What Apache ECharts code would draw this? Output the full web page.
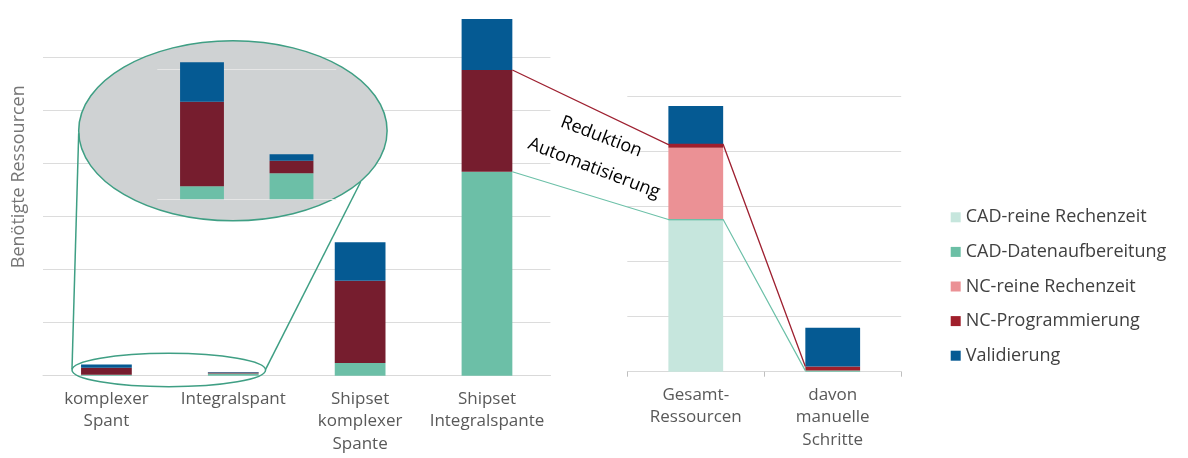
<!DOCTYPE html>
<html><head><meta charset="utf-8">
<script src="https://cdn.jsdelivr.net/npm/echarts@6/dist/echarts.min.js"></script>
<style>html,body{margin:0;padding:0;background:#fff}#c{width:1188px;height:458px}</style>
</head><body><div id="c"></div>
<script>
// ---- data ----
const leftCategories = ['komplexer\nSpant', 'Integralspant', 'Shipset\nkomplexer\nSpante', 'Shipset\nIntegralspante'];
const leftCAD = [0.2, 0.40, 2.39, 38.44];
const leftNC = [1.3, 0.195, 15.51, 19.16];
const leftValidierung = [0.61, 0.10, 7.24, 9.61];

const rightCategories = ['Gesamt-\nRessourcen', 'davon\nmanuelle\nSchritte'];
const cadReine = [2.74, 0];
const cadDaten = [0.02, 0.02];
const ncReine = [1.30, 0];
const ncProg = [0.06, 0.075];
const validierung = [0.70, 0.70];

const legendNames = ['CAD-reine Rechenzeit', 'CAD-Datenaufbereitung', 'NC-reine Rechenzeit', 'NC-Programmierung', 'Validierung'];
const yTitle = 'Benötigte Ressourcen';
const noteTop = 'Reduktion';
const noteBottom = 'Automatisierung';

// ---- chart ----
const FONT = '"Open Sans", "Noto Sans", sans-serif';
const chart = echarts.init(document.getElementById('c'));
const labelStyle = {interval: 0, color: '#595959', fontSize: 17, lineHeight: 22.5, margin: 12, fontFamily: FONT};

function bar(name, data, color, idx, stack, width, z) {
  return {type: 'bar', name, data, stack, xAxisIndex: idx, yAxisIndex: idx, barWidth: width,
    itemStyle: {color}, clip: false, z: z || 2, emphasis: {disabled: true}};
}

const option = {
  animation: false,
  textStyle: {fontFamily: FONT},
  grid: [
    {left: 43, top: 57.3, width: 507.4, height: 318.4, containLabel: false, outerBoundsMode: 'none'},
    {left: 627.3, top: 96, width: 273.9, height: 275.7, containLabel: false, outerBoundsMode: 'none'},
    {left: 157.25, top: 69.3, width: 179, height: 130, containLabel: false, outerBoundsMode: 'none'}
  ],
  xAxis: [
    {type: 'category', gridIndex: 0, data: leftCategories, axisLine: {lineStyle: {color: '#d9d9d9'}},
      axisTick: {show: false}, axisLabel: labelStyle},
    {type: 'category', gridIndex: 1, data: rightCategories, axisLine: {lineStyle: {color: '#d9d9d9'}},
      axisTick: {show: true, length: 5, lineStyle: {color: '#bfbfbf'}}, axisLabel: labelStyle},
    {type: 'category', gridIndex: 2, data: leftCategories.slice(0, 2), axisLine: {show: false},
      axisTick: {show: false}, axisLabel: {show: false}, z: 3}
  ],
  yAxis: [
    {type: 'value', gridIndex: 0, min: 0, max: 60, interval: 10, axisLabel: {show: false},
      axisLine: {show: false}, axisTick: {show: false}, splitLine: {lineStyle: {color: '#dcdcdc'}}},
    {type: 'value', gridIndex: 1, min: 0, max: 5, interval: 1, axisLabel: {show: false},
      axisLine: {show: false}, axisTick: {show: false}, splitLine: {lineStyle: {color: '#dcdcdc'}}},
    {type: 'value', gridIndex: 2, min: 0, max: 2, interval: 2, axisLabel: {show: false}, z: 3,
      axisLine: {show: false}, axisTick: {show: false}, splitLine: {lineStyle: {color: '#e6e6e6'}}}
  ],
  legend: {
    orient: 'vertical', left: 945.7, top: 202.3, data: legendNames, icon: 'rect',
    itemWidth: 10, itemHeight: 10, itemGap: 14.6, selectedMode: false,
    textStyle: {fontSize: 18, color: '#404040', lineHeight: 20, fontFamily: FONT}
  },
  series: [
    bar('L-CAD', leftCAD, '#6cbfa7', 0, 'L', '40%'),
    bar('L-NC', leftNC, '#761d2e', 0, 'L', '40%'),
    bar('L-Val', leftValidierung, '#055a93', 0, 'L', '40%'),
    bar(legendNames[0], cadReine, '#c6e6dd', 1, 'R', '40%'),
    bar(legendNames[1], cadDaten, '#6bbfa5', 1, 'R', '40%'),
    bar(legendNames[2], ncReine, '#eb9195', 1, 'R', '40%'),
    bar(legendNames[3], ncProg, '#a01f2b', 1, 'R', '40%'),
    bar(legendNames[4], validierung, '#055a93', 1, 'R', '40%'),
    bar('I-CAD', leftCAD.slice(0, 2), '#6cbfa7', 2, 'I', '49%', 4),
    bar('I-NC', leftNC.slice(0, 2), '#761d2e', 2, 'I', '49%', 4),
    bar('I-Val', leftValidierung.slice(0, 2), '#055a93', 2, 'I', '49%', 4)
  ]
};
chart.setOption(option);

// connector lines derived from the axes
function px(g, cat, val) { return chart.convertToPixel({gridIndex: g}, [cat, val]); }
const halfL = (px(0, 1, 0)[0] - px(0, 0, 0)[0]) * 0.4 / 2;
const halfR = (px(1, 1, 0)[0] - px(1, 0, 0)[0]) * 0.4 / 2;
const xL = px(0, 3, 0)[0] + halfL;
const lTeal = px(0, 3, leftCAD[3])[1];
const lRed = px(0, 3, leftCAD[3] + leftNC[3])[1];
const gL = px(1, 0, 0)[0] - halfR, gR = px(1, 0, 0)[0] + halfR;
const dL = px(1, 1, 0)[0] - halfR;
const cadTop = i => cadReine[i] + cadDaten[i];
const ncTop = i => cadTop(i) + ncReine[i] + ncProg[i];
const tealPts = [[xL, lTeal], [gL, px(1, 0, cadTop(0))[1]], [gR, px(1, 0, cadTop(0))[1]], [dL, px(1, 1, cadTop(1))[1]]];
const redPts = [[xL, lRed], [gL, px(1, 0, ncTop(0))[1]], [gR, px(1, 0, ncTop(0))[1]], [dL, px(1, 1, ncTop(1))[1]]];

const zoomStroke = '#3f9f84';
chart.setOption({
  graphic: [
    {type: 'ellipse', shape: {cx: 232.9, cy: 130.8, rx: 154.2, ry: 90}, style: {fill: '#cfd2d3', stroke: zoomStroke, lineWidth: 1.5}, z: 1, silent: true},
    {type: 'ellipse', shape: {cx: 168.8, cy: 370, rx: 96.8, ry: 16.7}, style: {fill: null, stroke: zoomStroke, lineWidth: 1.5}, z: 10, silent: true},
    {type: 'line', shape: {x1: 72, y1: 369.3, x2: 78.7, y2: 133.3}, style: {stroke: zoomStroke, lineWidth: 1.5}, z: 10, silent: true},
    {type: 'line', shape: {x1: 265.6, y1: 369.3, x2: 360.6, y2: 182}, style: {stroke: zoomStroke, lineWidth: 1.5}, z: 10, silent: true},
    {type: 'polyline', shape: {points: tealPts}, style: {stroke: '#6cc0a8', lineWidth: 1.2, fill: null}, z: 10, silent: true},
    {type: 'polyline', shape: {points: redPts}, style: {stroke: '#9e2030', lineWidth: 1.3, fill: null}, z: 10, silent: true},
    {type: 'text', x: 19, y: 176.7, rotation: Math.PI / 2, silent: true,
      style: {text: yTitle, fill: '#767676', font: '18px ' + FONT, align: 'center', verticalAlign: 'middle'}},
    {type: 'text', x: 601.3, y: 136.7, rotation: -0.366, silent: true, z: 11,
      style: {text: noteTop, fill: '#000', font: '18px ' + FONT, align: 'center', verticalAlign: 'middle'}},
    {type: 'text', x: 594, y: 168.3, rotation: -0.366, silent: true, z: 11,
      style: {text: noteBottom, fill: '#000', font: '18px ' + FONT, align: 'center', verticalAlign: 'middle'}}
  ]
});
</script>
</body></html>
